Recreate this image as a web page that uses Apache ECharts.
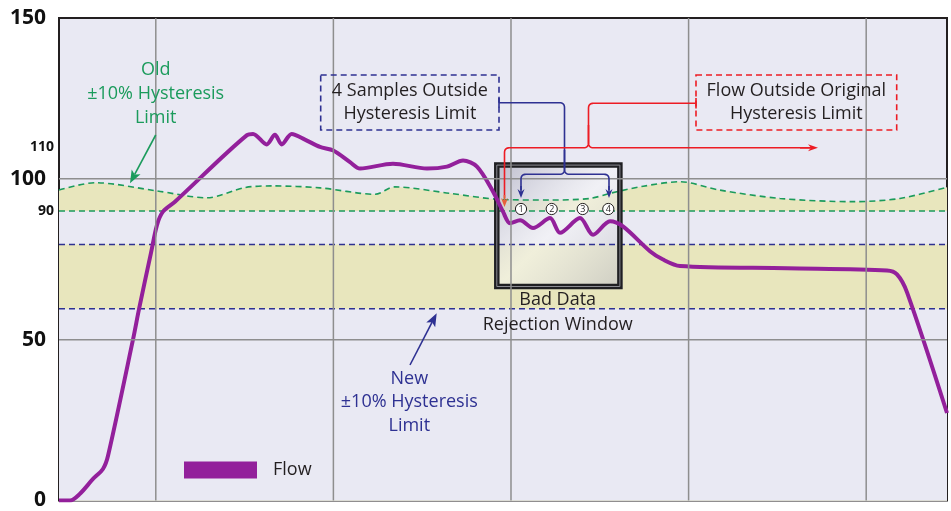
<!DOCTYPE html>
<html>
<head>
<meta charset="utf-8">
<script src="https://cdn.jsdelivr.net/npm/echarts@6/dist/echarts.min.js"></script>
<style>
  html, body { margin: 0; padding: 0; background: #fff; }
  #chart { width: 951px; height: 511px; }
</style>
</head>
<body>
<div id="chart"></div>
<script>
// flow trace (x in arbitrary time units, y in flow units)
const flowX = [-10.9, -9.66, -8.54, -7.07, -5.95, -5.38, -2.57, -1.89, -0.54, 0.14, 0.81, 2.16,
  10.27, 10.95, 12.49, 13.42, 14.18, 15.3, 16.8, 18.49, 19.99, 21.87, 23.0, 26.71, 30.54, 32.79,
  34.6, 36.17, 37.97, 39.1, 39.89, 41.02, 42.48, 44.4, 45.52, 47.77, 49.24, 51.15, 52.61, 55.65,
  57.12, 59.03, 71.08, 82.34, 83.47, 84.6, 89.1];
const flowY = [0, 0, 2.1, 6.7, 9.8, 13.9, 50.0, 59.5, 77.0, 85.7, 89.8, 92.9,
  113.6, 113.95, 110.7, 113.7, 110.7, 113.95, 112.2, 109.9, 108.8, 105.2, 103.2, 104.7, 103.2, 103.8,
  105.7, 103.8, 96.1, 89.8, 86.2, 87.1, 84.7, 87.8, 83.2, 87.8, 82.6, 86.8, 85.2, 77.5,
  74.9, 72.9, 72.2, 71.5, 70.3, 64.7, 27.2];

// old hysteresis band: wavy upper limit, flat lower limit
const oldLimitX = [-10.9, -6.85, 0.02, 5.77, 10.05, 13.2, 18.5, 24.7, 26.9, 33.1, 38.8,
  44.4, 48.9, 51.15, 54.9, 59.0, 63.5, 70.3, 78.5, 83.8, 89.1];
const oldLimitUpper = [96.5, 98.8, 96.3, 94.1, 97.3, 97.8, 97.2, 95.2, 97.5, 95.5, 93.6,
  93.4, 93.9, 95.5, 97.7, 99.1, 96.5, 93.9, 92.9, 93.9, 97.4];
const oldLimitLower = 90;

// new hysteresis band
const newLimitLower = 59.6;
const newLimitUpper = 79.6;

const xMin = -10.9, xMax = 89.1;
const gridX = [0, 20, 40, 60, 80];
const gridY = [50, 100];
const bigTicks = [0, 50, 100, 150];
const smallTicks = [90, 110];
const sampleLabels = ['1', '2', '3', '4'];

const FONT = '"Open Sans", "Noto Sans", sans-serif';
const ink = '#231f20';
const green = '#1b9b5c';
const navy = '#2e3192';
const red = '#ed1c24';
const purple = '#93209b';
const plotBg = '#e9e9f3';
const bandFill = '#e8e6bd';

function label(x, y, text, color, size) {
  return {
    type: 'text', x, y, z: 10, silent: true,
    style: {
      text, fill: color, font: `${size}px ${FONT}`,
      align: 'center', verticalAlign: 'middle', textAlign: 'center', textVerticalAlign: 'middle'
    }
  };
}

function arrow(x1, y1, x2, y2, color, len = 10, half = 4) {
  const d = Math.hypot(x2 - x1, y2 - y1);
  const ux = (x2 - x1) / d, uy = (y2 - y1) / d;
  const bx = x2 - ux * len, by = y2 - uy * len;
  return [
    { type: 'line', z: 10, silent: true, shape: { x1, y1, x2: bx + ux * 3, y2: by + uy * 3 },
      style: { stroke: color, lineWidth: 1.6 } },
    { type: 'polygon', z: 10, silent: true,
      shape: { points: [[x2, y2], [bx - uy * half, by + ux * half], [bx + ux * 3, by + uy * 3], [bx + uy * half, by - ux * half]] },
      style: { fill: color } }
  ];
}

// polyline with rounded corners
function bend(points, r, color) {
  const out = [points[0]];
  for (let i = 1; i < points.length - 1; i++) {
    const [px, py] = points[i - 1], [cx, cy] = points[i], [nx, ny] = points[i + 1];
    const a = Math.hypot(cx - px, cy - py), b = Math.hypot(nx - cx, ny - cy);
    const rr = Math.min(r, a / 2, b / 2);
    const sx = cx + (px - cx) / a * rr, sy = cy + (py - cy) / a * rr;
    const ex = cx + (nx - cx) / b * rr, ey = cy + (ny - cy) / b * rr;
    for (let t = 0; t <= 1.0001; t += 0.125) {
      const u = 1 - t;
      out.push([u * u * sx + 2 * u * t * cx + t * t * ex, u * u * sy + 2 * u * t * cy + t * t * ey]);
    }
  }
  out.push(points[points.length - 1]);
  return { type: 'polyline', z: 10, silent: true, shape: { points: out },
    style: { stroke: color, lineWidth: 1.6, fill: 'none' } };
}

const samplePx = [521, 551.7, 582.7, 608.3];

const graphics = [
  // bad data window glass + frame
  { type: 'rect', z: 5, silent: true, shape: { x: 494, y: 162.3, width: 128.7, height: 127 },
    style: { fill: new echarts.graphic.LinearGradient(0, 0, 1, 1, [
      { offset: 0, color: 'rgba(170,170,188,0.75)' },
      { offset: 0.5, color: 'rgba(248,248,248,0.5)' },
      { offset: 1, color: 'rgba(190,190,196,0.65)' }
    ]) } },
  { type: 'rect', z: 7, silent: true, shape: { x: 496.8, y: 165.1, width: 123.1, height: 121.4 },
    style: { fill: 'none', stroke: '#1f1f22', lineWidth: 5.5 } },
  { type: 'rect', z: 7, silent: true, shape: { x: 496.8, y: 165.1, width: 123.1, height: 121.4 },
    style: { fill: 'none', stroke: '#8b8b93', lineWidth: 1 } },

  // dashed callout boxes
  { type: 'rect', z: 10, silent: true, shape: { x: 320.7, y: 75, width: 178.3, height: 55 },
    style: { fill: 'none', stroke: navy, lineWidth: 1.6, lineDash: [6, 4] } },
  { type: 'rect', z: 10, silent: true, shape: { x: 696, y: 75, width: 200.7, height: 55 },
    style: { fill: 'none', stroke: red, lineWidth: 1.6, lineDash: [6, 4] } },

  label(409.9, 90.7, '4 Samples Outside', ink, 18),
  label(409.9, 114, 'Hysteresis Limit', ink, 18),
  label(796.3, 90.7, 'Flow Outside Original', ink, 18),
  label(796.3, 114, 'Hysteresis Limit', ink, 18),

  // navy connector
  { type: 'line', z: 10, silent: true, shape: { x1: 499, y1: 98, x2: 499, y2: 107.5 }, style: { stroke: navy, lineWidth: 1.6 } },
  bend([[499, 102.7], [564.5, 102.7], [564.5, 174.3], [521, 174.3], [521, 190]], 5, navy),
  bend([[564.5, 150], [564.5, 174.3], [609, 174.3], [609, 190]], 5, navy),
  ...arrow(521, 186, 521, 198, navy, 9, 3.5),
  ...arrow(609, 186, 609, 198, navy, 9, 3.5),

  // red connector
  { type: 'line', z: 10, silent: true, shape: { x1: 696, y1: 98, x2: 696, y2: 108.5 }, style: { stroke: red, lineWidth: 1.6 } },
  bend([[696, 103.3], [588.5, 103.3], [588.5, 147.8], [504.5, 147.8], [504.5, 198]], 5, red),
  bend([[588.5, 125], [588.5, 147.8], [810, 147.8]], 5, red),
  ...arrow(800, 147.8, 818, 147.8, red, 10, 3.5),
  ...arrow(504.5, 195, 504.5, 207, '#e8603a', 9, 3.5),

  // old limit note
  label(155.7, 70, 'Old', green, 18),
  label(155.7, 94.3, '±10% Hysteresis', green, 18),
  label(155.7, 117.7, 'Limit', green, 18),
  ...arrow(155.7, 135, 130, 183.3, green, 13, 5),

  // new limit note
  label(409.3, 379, 'New', navy, 18),
  label(409.3, 402.3, '±10% Hysteresis', navy, 18),
  label(409.3, 426, 'Limit', navy, 18),
  ...arrow(410, 365, 436.7, 313.3, navy, 13, 5),

  label(557.7, 300, 'Bad Data', ink, 18),
  label(557.7, 325, 'Rejection Window', ink, 18)
];

sampleLabels.forEach((s, i) => {
  graphics.push({ type: 'circle', z: 10, silent: true, shape: { cx: samplePx[i], cy: 209, r: 5.6 },
    style: { fill: '#fff', stroke: ink, lineWidth: 1 } });
  graphics.push(label(samplePx[i], 209.5, s, ink, 9));
});

const dashed = (color) => ({ color, width: 1.6, type: [6, 4] });
const flat = (v) => [[xMin, v], [xMax, v]];

// flat filled area from the axis up to v
function fillTo(name, v, color, z) {
  return { name, type: 'line', z, silent: true, showSymbol: false, data: flat(v),
    lineStyle: { opacity: 0 }, areaStyle: { color, opacity: 1 } };
}
function hLine(name, v, lineStyle, z) {
  return { name, type: 'line', z, silent: true, showSymbol: false, data: flat(v), lineStyle };
}

const gridStyle = { color: '#8e8e8e', width: 1.5, type: 'solid' };

const chart = echarts.init(document.getElementById('chart'));
chart.setOption({
  animation: false,
  grid: {
    left: 59, right: 4, top: 18, bottom: 6,
    show: true, backgroundColor: plotBg, borderColor: ink, borderWidth: 2
  },
  legend: {
    data: ['Flow'], left: 184, top: 461, padding: 0, selectedMode: false, z: 20,
    icon: 'rect', itemWidth: 73, itemHeight: 17,
    textStyle: { fontFamily: FONT, fontSize: 18, color: ink, padding: [0, 0, 0, 11] }
  },
  xAxis: {
    type: 'value', min: xMin, max: xMax,
    axisLine: { show: false }, axisTick: { show: false }, axisLabel: { show: false }, splitLine: { show: false }
  },
  yAxis: {
    type: 'value', min: 0, max: 150, interval: 10,
    axisLine: { show: false }, axisTick: { show: false }, splitLine: { show: false },
    axisLabel: {
      margin: 5,
      formatter: v => bigTicks.includes(v) ? `{big|${v}}` : smallTicks.includes(v) ? `{small|${v}}` : '',
      rich: {
        big: { fontFamily: FONT, fontSize: 21, fontWeight: 'bold', color: '#111', padding: [0, 8, 0, 0] },
        small: { fontFamily: FONT, fontSize: 14, fontWeight: 'bold', color: '#111' }
      }
    }
  },
  graphic: { elements: graphics },
  series: [
    // old band = area under wavy upper limit, cut off below the lower limit
    {
      name: 'oldBand', type: 'line', z: 1, silent: true, smooth: 0.3, showSymbol: false,
      lineStyle: { opacity: 0 }, areaStyle: { color: bandFill, opacity: 1 },
      data: oldLimitX.map((x, i) => [x, oldLimitUpper[i]])
    },
    fillTo('belowOld', oldLimitLower, plotBg, 2),
    fillTo('newBand', newLimitUpper, bandFill, 3),
    fillTo('belowNew', newLimitLower, plotBg, 4),
    {
      name: 'oldUpper', type: 'line', z: 6, silent: true, smooth: 0.3, showSymbol: false,
      lineStyle: dashed(green),
      data: oldLimitX.map((x, i) => [x, oldLimitUpper[i]])
    },
    hLine('oldLower', oldLimitLower, dashed(green), 6),
    hLine('newUpper', newLimitUpper, dashed(navy), 6),
    hLine('newLower', newLimitLower, dashed(navy), 6),
    {
      name: 'Flow', type: 'line', z: 8, silent: true, smooth: 0.3, showSymbol: false,
      lineStyle: { color: purple, width: 4 }, itemStyle: { color: purple },
      data: flowX.map((x, i) => [x, flowY[i]])
    },
    ...gridX.map((x, i) => ({
      name: 'gx' + i, type: 'line', z: 9, silent: true, showSymbol: false,
      data: [[x, 0], [x, 150]], lineStyle: gridStyle
    })),
    ...gridY.map((y, i) => hLine('gy' + i, y, gridStyle, 9))
  ]
});
</script>
</body>
</html>
